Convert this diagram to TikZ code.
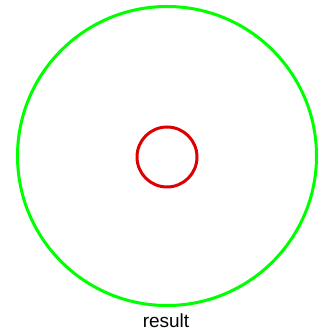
\documentclass[tikz,border=0pt]{standalone}
\usepackage{fontspec}
\setmainfont{Liberation Sans}
\definecolor{ringgreen}{RGB}{0,255,0}
\definecolor{ringred}{RGB}{221,0,0}
\begin{document}
\begin{tikzpicture}[x=1pt,y=1pt,
  ring/.style={circle, draw, line width=3pt, inner sep=0pt, outer sep=0pt}]
\useasboundingbox (0,0) rectangle (328,331);
\node[ring, draw=ringgreen, minimum size=299pt] (outer) at (167,175) {};
\node[ring, draw=ringred, minimum size=60pt] (inner) at (167,174) {};
\node[anchor=base, inner sep=0pt, font=\fontsize{19}{22}\selectfont] (label) at (166,3) {result};
\end{tikzpicture}
\end{document}
